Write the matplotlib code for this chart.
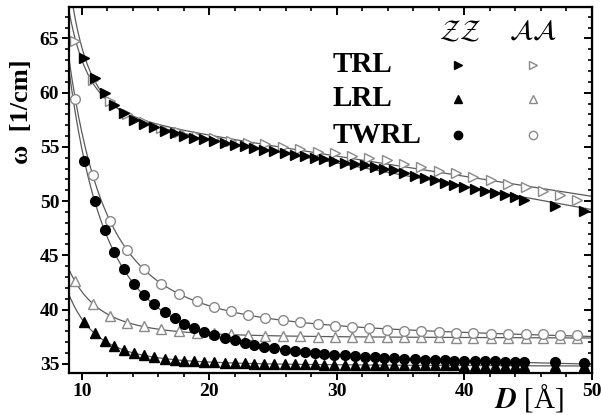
import numpy as np
import matplotlib
matplotlib.use("Agg")
import matplotlib.pyplot as plt

# ---------------- data ----------------
D_zz = [10.2, 11.0, 11.8, 12.5, 13.3, 14.1, 14.9, 15.7, 16.5, 17.3, 18.0, 18.8,
        19.6, 20.4, 21.2, 22.0, 22.8, 23.5, 24.3, 25.1, 25.9, 26.7, 27.5, 28.3,
        29.0, 29.8, 30.6, 31.4, 32.2, 33.0, 33.7, 34.5, 35.3, 36.1, 36.9, 37.7,
        38.5, 39.2, 40.0, 40.8, 41.6, 42.4, 43.2, 44.0, 44.7, 47.1, 49.4]
D_aa = [9.5, 10.85, 12.2, 13.55, 14.9, 16.25, 17.6, 19.0, 20.35, 21.7, 23.05,
        24.4, 25.75, 27.1, 28.5, 29.85, 31.2, 32.55, 33.9, 35.25, 36.6, 38.0,
        39.35, 40.7, 42.05, 43.4, 44.8, 46.15, 47.5, 48.85]

trl_zz = [63.2, 61.4, 60.0, 58.9, 58.1, 57.5, 57.1, 56.8, 56.5, 56.3, 56.0, 55.85,
          55.7, 55.55, 55.4, 55.2, 55.05, 54.9, 54.75, 54.6, 54.45, 54.3, 54.15, 54.0,
          53.85, 53.7, 53.55, 53.45, 53.3, 53.15, 53.0, 52.85, 52.6, 52.35, 52.15, 51.95,
          51.7, 51.5, 51.3, 51.1, 50.95, 50.75, 50.55, 50.4, 50.15, 49.55, 49.05]
trl_aa = [64.8, 61.2, 59.2, 58.0, 57.3, 56.75, 56.4, 56.05, 55.8, 55.55, 55.4,
          55.25, 55.0, 54.8, 54.55, 54.4, 54.2, 54.0, 53.75, 53.45, 53.15, 52.8,
          52.55, 52.25, 51.95, 51.6, 51.3, 50.95, 50.6, 50.15]

lrl_zz = [38.85, 37.8, 37.1, 36.6, 36.25, 35.98, 35.8, 35.6, 35.47, 35.37, 35.28, 35.22,
          35.17, 35.13, 35.1, 35.07, 35.04, 35.02, 35.0, 34.98, 34.97, 34.96, 34.95, 34.94,
          34.93, 34.92, 34.91, 34.9, 34.89, 34.88, 34.88, 34.87, 34.86, 34.86, 34.85, 34.85,
          34.84, 34.84, 34.83, 34.83, 34.82, 34.82, 34.82, 34.81, 34.81, 34.8, 34.8]
lrl_aa = [42.6, 40.5, 39.4, 38.75, 38.45, 38.22, 38.0, 37.88, 37.8, 37.7, 37.62,
          37.58, 37.55, 37.52, 37.5, 37.48, 37.47, 37.46, 37.45, 37.44, 37.43, 37.43,
          37.42, 37.42, 37.41, 37.41, 37.4, 37.4, 37.4, 37.4]

twrl_zz = [53.7, 50.0, 47.3, 45.3, 43.7, 42.4, 41.3, 40.5, 39.8, 39.2, 38.7, 38.3,
           37.95, 37.65, 37.4, 37.15, 36.95, 36.75, 36.58, 36.42, 36.3, 36.2, 36.1, 36.0,
           35.92, 35.85, 35.78, 35.72, 35.66, 35.6, 35.55, 35.5, 35.46, 35.42, 35.39, 35.36,
           35.33, 35.3, 35.28, 35.26, 35.24, 35.22, 35.2, 35.18, 35.17, 35.13, 35.1]
twrl_aa = [59.4, 52.4, 48.2, 45.5, 43.7, 42.4, 41.45, 40.8, 40.26, 39.86, 39.5,
           39.25, 39.0, 38.85, 38.7, 38.5, 38.4, 38.27, 38.15, 38.05, 37.98, 37.92,
           37.87, 37.82, 37.78, 37.75, 37.72, 37.7, 37.68, 37.66]

x_ticks = [10, 20, 30, 40, 50]
y_ticks = [35, 40, 45, 50, 55, 60, 65]
row_labels = ["TRL", "LRL", "TWRL"]

# ---------------- style ----------------
plt.rcParams['font.family'] = ['Liberation Serif', 'DejaVu Serif']
plt.rcParams['mathtext.fontset'] = 'stix'

fig = plt.figure(figsize=(6.01, 4.15), dpi=100)
ax = fig.add_axes([0.1148, 0.101, 0.985 - 0.1148, 0.983 - 0.101])

GREY = '#8a8a8a'
LINE = '#5a5a5a'


def fit_curve(D, w):
    D = np.asarray(D, float)
    w = np.asarray(w, float)
    best = None
    for n in np.arange(1.0, 10.01, 0.25):
        A = np.column_stack([np.ones_like(D), D, D ** (-n)])
        coef, res, *_ = np.linalg.lstsq(A, w, rcond=None)
        r = np.sum((A @ coef - w) ** 2)
        if best is None or r < best[0]:
            best = (r, n, coef)
    _, n, coef = best
    Df = np.linspace(9.0, 50.0, 500)
    return Df, coef[0] + coef[1] * Df + coef[2] * Df ** (-n)


for D, w in [(D_zz, trl_zz), (D_aa, trl_aa), (D_zz, lrl_zz), (D_aa, lrl_aa),
             (D_zz, twrl_zz), (D_aa, twrl_aa)]:
    Df, wf = fit_curve(D, w)
    ax.plot(Df, wf, color=LINE, lw=0.9, zorder=1)

ms = 7
ax.plot(D_zz, trl_zz, ls='none', marker='>', ms=ms, color='black', zorder=3)
ax.plot(D_aa, trl_aa, ls='none', marker='>', ms=ms, mfc='white', mec=GREY, mew=1.0, zorder=2)
ax.plot(D_zz, lrl_zz, ls='none', marker='^', ms=ms, color='black', zorder=3)
ax.plot(D_aa, lrl_aa, ls='none', marker='^', ms=ms, mfc='white', mec=GREY, mew=1.0, zorder=2)
ax.plot(D_zz, twrl_zz, ls='none', marker='o', ms=ms, color='black', zorder=3)
ax.plot(D_aa, twrl_aa, ls='none', marker='o', ms=ms, mfc='white', mec=GREY, mew=1.0, zorder=2)

ax.set_xlim(9.0, 50.0)
ax.set_ylim(34.14, 67.9)
ax.set_xticks(x_ticks)
ax.set_yticks(y_ticks)
ax.set_xticks(np.arange(10, 50, 2), minor=True)
ax.set_yticks(np.arange(35, 68, 1), minor=True)

for s in ax.spines.values():
    s.set_linewidth(1.6)

ax.tick_params(axis='both', which='major', labelsize=14, width=1.4, length=5, pad=2)
ax.tick_params(axis='both', which='minor', width=1.2, length=3)
ax.tick_params(axis='x', which='both', direction='out', top=False)
ax.tick_params(axis='y', which='both', direction='out', right=False)
for lab in ax.get_xticklabels() + ax.get_yticklabels():
    lab.set_fontweight('bold')
# mirrored inward ticks on top / right
secx = ax.secondary_xaxis('top')
secx.set_xticks(x_ticks)
secx.set_xticks(np.arange(10, 50, 2), minor=True)
secx.tick_params(which='major', direction='in', length=6, width=1.4, labeltop=False)
secx.tick_params(which='minor', direction='in', length=3, width=1.2)
secx.set_xticklabels([])
secy = ax.secondary_yaxis('right')
secy.set_yticks(y_ticks)
secy.set_yticks(np.arange(35, 68, 1), minor=True)
secy.tick_params(which='major', direction='in', length=6, width=1.4)
secy.tick_params(which='minor', direction='in', length=3, width=1.2)
secy.set_yticklabels([])

# axis labels
fig.text(0.035, 0.73, 'ω  [1/cm]', rotation=90, ha='center', va='center',
         fontsize=19, fontweight='bold')
fig.text(0.88, 0.04, r'$\boldsymbol{D}$ [Å]', ha='center', va='center', fontsize=21)

# legend block
fig.text(460 / 601, 1 - 32 / 415, r'$\mathcal{ZZ}$', ha='center', va='center', fontsize=20)
fig.text(533 / 601, 1 - 32 / 415, r'$\mathcal{AA}$', ha='center', va='center', fontsize=20)
ys = [65, 99, 135]
mk = ['>', '^', 'o']
for lbl, yy, m in zip(row_labels, ys, mk):
    fy = 1 - yy / 415
    fig.text(333 / 601, fy, lbl, ha='left', va='center', fontsize=21, fontweight='bold')
    fig.add_artist(plt.Line2D([458 / 601], [fy], marker=m, ms=6, color='black',
                              transform=fig.transFigure, ls='none'))
    fig.add_artist(plt.Line2D([533 / 601], [fy], marker=m, ms=6, mfc='white', mec=GREY,
                              mew=1.0, transform=fig.transFigure, ls='none'))

fig.savefig('out.png', dpi=100)
